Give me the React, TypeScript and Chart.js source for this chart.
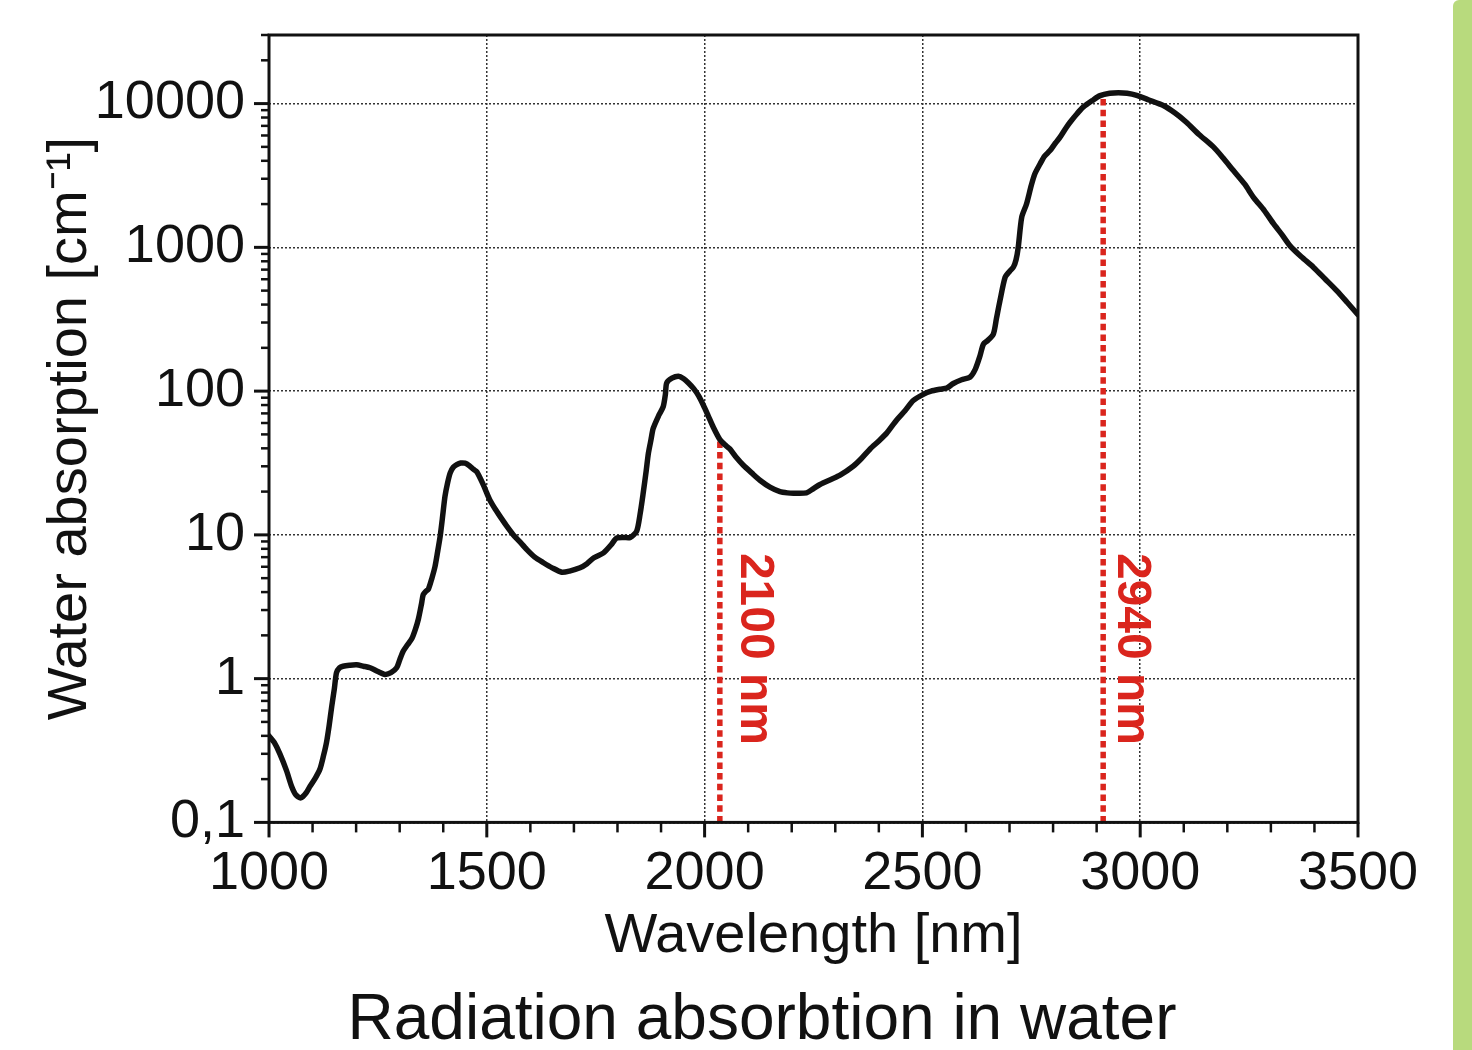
import React, { useEffect, useRef } from "react";
import { Chart, registerables } from "chart.js";

Chart.register(...registerables);

// ---- data ----
const wavelengthNm = [
  1000, 1012, 1025, 1040, 1052, 1062, 1073, 1085, 1094, 1107, 1117, 1125, 1132, 1138, 1144, 1150, 1155, 1162, 1170, 1185,
  1201, 1217, 1232, 1250, 1266, 1280, 1293, 1300, 1308, 1318, 1328, 1336, 1343, 1350, 1354, 1360, 1366, 1374, 1381, 1387,
  1393, 1398, 1404, 1410, 1416, 1423, 1431, 1440, 1450, 1460, 1470, 1477, 1490, 1500, 1507, 1520, 1530, 1545, 1561, 1575,
  1592, 1610, 1630, 1650, 1672, 1690, 1714, 1730, 1745, 1768, 1785, 1798, 1815, 1829, 1844, 1852, 1859, 1866, 1871, 1877,
  1882, 1895, 1905, 1910, 1913, 1925, 1940, 1952, 1963, 1975, 1986, 1997, 2008, 2020, 2035, 2046, 2058, 2073, 2089, 2108,
  2127, 2150, 2173, 2190, 2204, 2234, 2250, 2265, 2290, 2311, 2341, 2360, 2380, 2400, 2418, 2441, 2460, 2479, 2502, 2520,
  2540, 2556, 2571, 2590, 2609, 2621, 2632, 2640, 2650, 2663, 2670, 2678, 2690, 2700, 2709, 2715, 2720, 2728, 2739, 2750,
  2758, 2770, 2780, 2793, 2805, 2816, 2830, 2839, 2855, 2869, 2890, 2908, 2930, 2950, 2970, 2992, 3020, 3053, 3080, 3106,
  3135, 3168, 3190, 3214, 3240, 3260, 3285, 3306, 3325, 3344, 3370, 3398, 3425, 3451, 3475, 3500,
];
const absorptionCm = [
  0.4, 0.36, 0.3, 0.23, 0.178, 0.155, 0.148, 0.16, 0.178, 0.205, 0.235, 0.29, 0.36, 0.47, 0.64, 0.85, 1.1, 1.19, 1.22, 1.24,
  1.25, 1.22, 1.19, 1.12, 1.07, 1.1, 1.19, 1.35, 1.55, 1.72, 1.9, 2.2, 2.6, 3.3, 3.84, 4.05, 4.2, 5.0, 6.0, 7.6,
  9.8, 13, 18.5, 23, 27, 29.5, 30.8, 31.6, 31.5, 30.3, 28.5, 27.5, 23, 19.5, 17.5, 15, 13.5, 11.6, 10, 9,
  7.9, 7.0, 6.4, 5.9, 5.5, 5.6, 5.9, 6.3, 6.9, 7.5, 8.5, 9.5, 9.6, 9.6, 10.6, 14, 19.5, 28, 37, 46,
  55, 68, 78, 95, 114, 123, 127, 122, 114, 104, 93, 80, 67.6, 56, 46, 42.5, 39.6, 34.5, 30.5, 27,
  24, 21.5, 20, 19.6, 19.5, 19.6, 21, 22.4, 24.3, 26, 30, 34, 39.6, 45, 51, 63, 73, 86, 95, 100,
  103, 105, 113, 120, 125, 141, 175, 212, 225, 250, 320, 425, 620, 680, 730, 820, 1000, 1620, 2000, 2700,
  3240, 3800, 4300, 4710, 5300, 5840, 6800, 7420, 8500, 9440, 10500, 11360, 11800, 11900, 11800, 11400, 10600, 9700, 8600, 7420,
  6100, 5000, 4200, 3420, 2750, 2230, 1800, 1460, 1230, 1025, 860, 725, 600, 500, 415, 340,
];

const markerNm = [2035, 2915];
const markerTop = [46, 11400];
const markerLabels = ["2100 nm", "2940 nm"];

const xMajorTicks = [1000, 1500, 2000, 2500, 3000, 3500];
const yTicks = [
  0.1, 0.2, 0.3, 0.4, 0.5, 0.6, 0.7, 0.8, 0.9,
  1, 2, 3, 4, 5, 6, 7, 8, 9,
  10, 20, 30, 40, 50, 60, 70, 80, 90,
  100, 200, 300, 400, 500, 600, 700, 800, 900,
  1000, 2000, 3000, 4000, 5000, 6000, 7000, 8000, 9000,
  10000, 20000, 30000,
];
const yMajorTicks = [0.1, 1, 10, 100, 1000, 10000];
const yMajorLabels = ["0,1", "1", "10", "100", "1000", "10000"];

const FONT = '"Liberation Sans", Arial, sans-serif';
const INK = "#111111";
const RED = "#da251d";

const isXMajor = (v: number) => xMajorTicks.indexOf(v) >= 0;
const isYMajor = (v: number) => yMajorTicks.some((m) => Math.abs(m - v) < m * 1e-6);

const framePlugin = {
  id: "frameAndTicks",
  afterLayout(chart: any) {
    // centre the caption under the whole figure like the original
    if (chart.titleBlock) {
      chart.titleBlock.left = 52;
      chart.titleBlock.right = 1472;
    }
  },
  afterDraw(chart: any) {
    const { ctx, chartArea } = chart;
    const xs = chart.scales.x;
    const ys = chart.scales.y;
    ctx.save();
    ctx.strokeStyle = INK;
    ctx.lineCap = "butt";
    xs.ticks.forEach((t: any) => {
      const px = xs.getPixelForValue(t.value);
      const major = isXMajor(t.value);
      ctx.lineWidth = major ? 3 : 2.5;
      ctx.beginPath();
      ctx.moveTo(px, chartArea.bottom);
      ctx.lineTo(px, chartArea.bottom + (major ? 15 : 10));
      ctx.stroke();
    });
    ys.ticks.forEach((t: any) => {
      const py = ys.getPixelForValue(t.value);
      const major = isYMajor(t.value);
      ctx.lineWidth = major ? 3 : 2.5;
      ctx.beginPath();
      ctx.moveTo(chartArea.left, py);
      ctx.lineTo(chartArea.left - (major ? 15 : 8), py);
      ctx.stroke();
    });
    ctx.lineWidth = 3;
    ctx.strokeRect(chartArea.left, chartArea.top, chartArea.right - chartArea.left, chartArea.bottom - chartArea.top);
    ctx.restore();
  },
  afterDatasetsDraw(chart: any) {
    const { ctx } = chart;
    const xs = chart.scales.x;
    const ys = chart.scales.y;
    const dx = [21, 15];
    ctx.save();
    ctx.fillStyle = RED;
    ctx.font = `bold 48px ${FONT}`;
    ctx.textAlign = "left";
    ctx.textBaseline = "alphabetic";
    markerLabels.forEach((label, i) => {
      const px = xs.getPixelForValue(markerNm[i]) + dx[i];
      const py = ys.getPixelForValue(10) + 18;
      ctx.save();
      ctx.translate(px, py);
      ctx.rotate(Math.PI / 2);
      ctx.fillText(label, 0, 0);
      ctx.restore();
    });
    ctx.restore();
  },
};

export default function App() {
  const canvasRef = useRef<HTMLCanvasElement | null>(null);

  useEffect(() => {
    const canvas = canvasRef.current;
    if (!canvas) return;

    const curve = wavelengthNm.map((x, i) => ({ x, y: absorptionCm[i] }));
    const markerSets = markerNm.map((x, i) => ({
      data: [
        { x, y: 0.1 },
        { x, y: markerTop[i] },
      ],
      borderColor: RED,
      borderWidth: 5.5,
      borderDash: [6.5, 4.2],
      pointRadius: 0,
      tension: 0,
      borderCapStyle: "butt" as const,
    }));

    const chart = new Chart(canvas, {
      type: "line",
      data: {
        datasets: [
          {
            data: curve,
            borderColor: INK,
            borderWidth: 5.5,
            pointRadius: 0,
            tension: 0.25,
            borderJoinStyle: "round",
            borderCapStyle: "round",
          } as any,
          ...markerSets,
        ],
      },
      options: {
        animation: false,
        responsive: false,
        devicePixelRatio: 1,
        layout: { padding: { top: 35, right: 114, bottom: 0, left: 0 } },
        plugins: {
          legend: { display: false },
          tooltip: { enabled: false },
          title: {
            display: true,
            position: "bottom",
            text: "Radiation absorbtion in water",
            color: INK,
            font: { family: FONT, size: 64, weight: "normal", lineHeight: 0.9 },
            padding: { top: 20, bottom: 0 },
          },
        },
        scales: {
          x: {
            type: "linear",
            min: 1000,
            max: 3500,
            afterFit: (scale: any) => {
              scale.height = 150;
            },
            ticks: {
              stepSize: 100,
              autoSkip: false,
              maxRotation: 0,
              padding: 4,
              color: INK,
              font: { family: FONT, size: 54 },
              callback: (v: any) => (isXMajor(Number(v)) ? String(v) : ""),
            },
            grid: {
              color: (c: any) => (c.tick && isXMajor(c.tick.value) ? "#333333" : "rgba(0,0,0,0)"),
              lineWidth: 1.5,
              drawTicks: true,
              tickLength: 15,
              tickColor: "rgba(0,0,0,0)",
              tickBorderDash: [],
            },
            border: { display: false, dash: [2, 2] },
            title: {
              display: true,
              text: "Wavelength [nm]",
              color: INK,
              font: { family: FONT, size: 56 },
              padding: { top: 0, bottom: 2 },
            },
          },
          y: {
            type: "logarithmic",
            min: 0.1,
            max: 30000,
            afterFit: (scale: any) => {
              scale.width = 269;
              scale.paddingTop = 0;
              scale.paddingBottom = 0;
            },
            afterBuildTicks: (scale: any) => {
              scale.ticks = yTicks.map((v) => ({ value: v, major: isYMajor(v) }));
            },
            ticks: {
              autoSkip: false,
              padding: 9,
              color: INK,
              font: { family: FONT, size: 54 },
              callback: (v: any) => {
                const n = Number(v);
                const idx = yMajorTicks.findIndex((m) => Math.abs(m - n) < m * 1e-6);
                return idx >= 0 ? yMajorLabels[idx] : "";
              },
            },
            grid: {
              color: (c: any) => (c.tick && isYMajor(c.tick.value) ? "#333333" : "rgba(0,0,0,0)"),
              lineWidth: 1.5,
              drawTicks: true,
              tickLength: 15,
              tickColor: "rgba(0,0,0,0)",
              tickBorderDash: [],
            },
            border: { display: false, dash: [2, 2] },
            title: {
              display: true,
              text: "Water absorption [cm\u207B\u00B9]",
              color: INK,
              font: { family: FONT, size: 56 },
              padding: { top: 37, bottom: 0 },
            },
          },
        },
      } as any,
      plugins: [framePlugin],
    });

    return () => chart.destroy();
  }, []);

  return (
    <div style={{ position: "absolute", left: 0, top: 0, width: 1472, height: 1050, background: "#fff", overflow: "hidden" }}>
      <canvas ref={canvasRef} width={1472} height={1050} style={{ display: "block" }} />
      <div
        style={{
          position: "absolute",
          left: 1453,
          top: 0,
          width: 19,
          height: 1050,
          background: "#b8da7d",
          borderTopLeftRadius: 6,
        }}
      />
    </div>
  );
}
